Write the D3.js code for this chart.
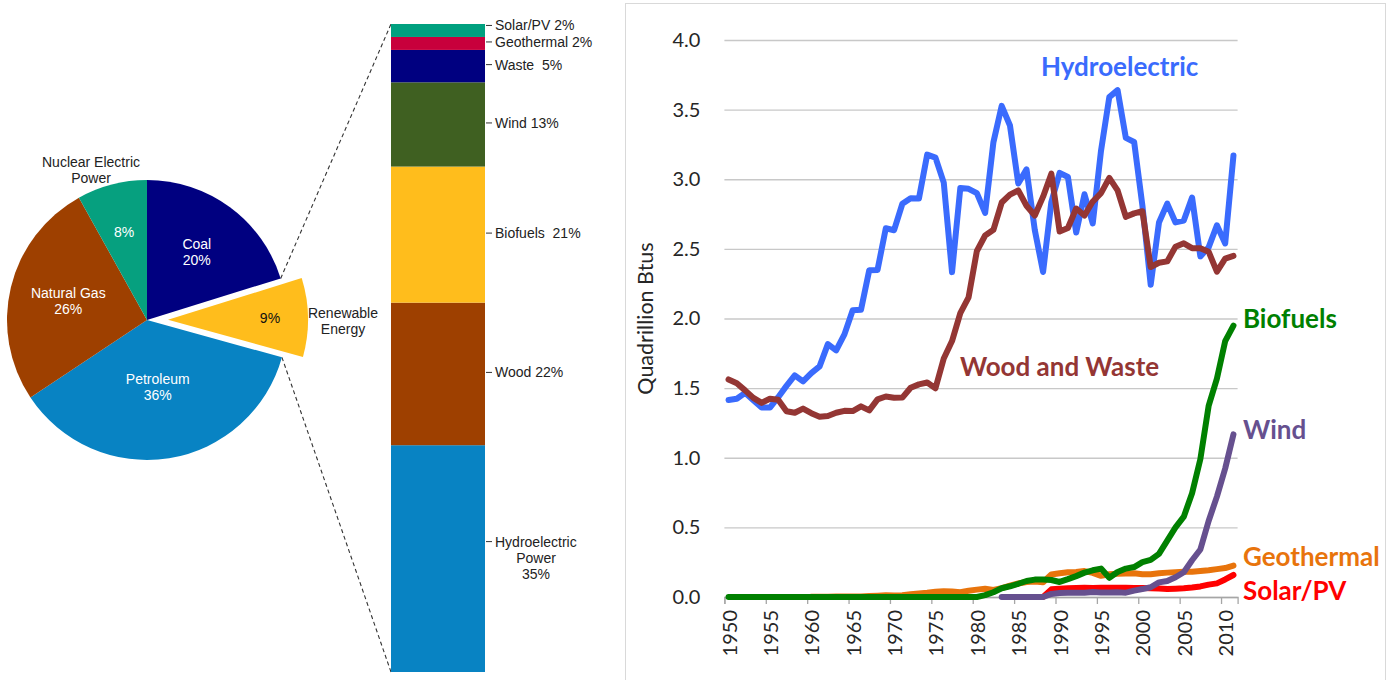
<!DOCTYPE html>
<html>
<head>
<meta charset="utf-8">
<script src="https://cdn.jsdelivr.net/npm/d3@7/dist/d3.min.js"></script>
<style>
  html, body { margin: 0; padding: 0; background: #fff; }
  svg { display: block; }
  .sans { font-family: "Liberation Sans", Arial, sans-serif; }
  .cal { font-family: Lato, "Open Sans", sans-serif; }
</style>
</head>
<body>
<svg id="chart" width="1397" height="680"></svg>
<script>
// ---- Primary energy consumption shares ----
const pieNames = ["Coal", "Renewable Energy", "Petroleum", "Natural Gas", "Nuclear Electric Power"];
const pieShares = [20, 9, 36, 26, 8];
const pieColors = ["#000080", "#ffbd1c", "#0883c3", "#9e4000", "#06a07f"];

// ---- Renewable energy breakdown (bottom to top of the stacked column) ----
const renewNames = ["Hydroelectric Power", "Wood", "Biofuels", "Wind", "Waste", "Geothermal", "Solar/PV"];
const renewShares = [35, 22, 21, 13, 5, 2, 2];
const renewColors = ["#0883c3", "#9e4000", "#ffbd1c", "#3f6021", "#000080", "#c8003c", "#00a07f"];

// ---- Renewable energy consumption by source, quadrillion Btu ----
const years = d3.range(1950, 2012);
const yTicks = [0, 0.5, 1, 1.5, 2, 2.5, 3, 3.5, 4];
const xTickYears = [1950, 1955, 1960, 1965, 1970, 1975, 1980, 1985, 1990, 1995, 2000, 2005, 2010];

const hydro = [
  1.415, 1.424, 1.466, 1.413, 1.360, 1.360, 1.435, 1.516, 1.592, 1.548,
  1.608, 1.656, 1.816, 1.771, 1.886, 2.059, 2.062, 2.347, 2.349, 2.648,
  2.634, 2.824, 2.864, 2.861, 3.177, 3.155, 2.976, 2.333, 2.937, 2.931,
  2.900, 2.758, 3.266, 3.527, 3.386, 2.970, 3.071, 2.635, 2.334, 2.837,
  3.046, 3.016, 2.617, 2.892, 2.683, 3.205, 3.590, 3.640, 3.297, 3.268,
  2.811, 2.242, 2.689, 2.825, 2.690, 2.703, 2.869, 2.446, 2.511, 2.669,
  2.539, 3.171
];
const woodWaste = [
  1.562, 1.535, 1.484, 1.430, 1.394, 1.424, 1.416, 1.334, 1.323, 1.353,
  1.320, 1.295, 1.300, 1.323, 1.337, 1.335, 1.369, 1.340, 1.419, 1.440,
  1.431, 1.432, 1.503, 1.527, 1.540, 1.499, 1.713, 1.838, 2.038, 2.152,
  2.485, 2.596, 2.637, 2.833, 2.890, 2.920, 2.810, 2.740, 2.875, 3.040,
  2.625, 2.650, 2.790, 2.740, 2.840, 2.900, 3.010, 2.920, 2.730, 2.755,
  2.770, 2.370, 2.400, 2.410, 2.515, 2.540, 2.505, 2.505, 2.480, 2.336,
  2.430, 2.450
];
const geothermal = [
  null, null, null, null, null, null, null, null, null, null,
  0.001, 0.002, 0.002, 0.003, 0.004, 0.004, 0.004, 0.007, 0.009, 0.012,
  0.011, 0.012, 0.020, 0.025, 0.030, 0.037, 0.042, 0.040, 0.035, 0.045,
  0.053, 0.059, 0.051, 0.064, 0.081, 0.097, 0.108, 0.112, 0.106, 0.162,
  0.171, 0.178, 0.179, 0.186, 0.173, 0.152, 0.163, 0.167, 0.168, 0.171,
  0.164, 0.164, 0.171, 0.175, 0.178, 0.181, 0.181, 0.186, 0.192, 0.200,
  0.208, 0.226
];
const solar = [
  null, null, null, null, null, null, null, null, null, null,
  null, null, null, null, null, null, null, null, null, null,
  null, null, null, null, null, null, null, null, null, null,
  null, null, null, null, 0, 0, 0, 0, 0, 0.055,
  0.059, 0.062, 0.064, 0.066, 0.065, 0.066, 0.067, 0.067, 0.066, 0.065,
  0.064, 0.062, 0.061, 0.058, 0.060, 0.063, 0.068, 0.076, 0.089, 0.098,
  0.126, 0.158
];
const wind = [
  null, null, null, null, null, null, null, null, null, null,
  null, null, null, null, null, null, null, null, null, null,
  null, null, null, null, null, null, null, null, null, null,
  null, null, null, 0, 0, 0, 0, 0, 0, 0.022,
  0.029, 0.031, 0.030, 0.031, 0.036, 0.033, 0.033, 0.034, 0.031, 0.046,
  0.057, 0.070, 0.105, 0.115, 0.142, 0.178, 0.264, 0.341, 0.546, 0.721,
  0.923, 1.168
];
const biofuels = [
  0, 0, 0, 0, 0, 0, 0, 0, 0, 0,
  0, 0, 0, 0, 0, 0, 0, 0, 0, 0,
  0, 0, 0, 0, 0, 0, 0, 0, 0, 0,
  0, 0.013, 0.034, 0.063, 0.077, 0.095, 0.115, 0.125, 0.126, 0.122,
  0.108, 0.128, 0.150, 0.175, 0.192, 0.204, 0.138, 0.180, 0.204, 0.215,
  0.250, 0.266, 0.310, 0.405, 0.500, 0.577, 0.745, 0.990, 1.372, 1.568,
  1.837, 1.949
];

const svg = d3.select("#chart");
svg.append("rect").attr("width", 1397).attr("height", 680).attr("fill", "#fff");

// =================== Pie of primary energy ===================
const cx = 147, cy = 320, R = 140, explode = 21;
const pie = d3.pie().sort(null).value(d => d)(pieShares);
const arc = d3.arc().innerRadius(0).outerRadius(R);
const renewIdx = pieNames.indexOf("Renewable Energy");
const renewArc = pie[renewIdx];

// Stacked column scale
const barX0 = 391, barX1 = 485;
const barY = d3.scaleLinear().domain([0, 100]).range([672, 24]);

// Dashed connectors from the pie wedge edges to the column corners
const polar = (a, r) => [cx + r * Math.sin(a), cy - r * Math.cos(a)];
const topStart = polar(renewArc.startAngle, R);
const botStart = polar(renewArc.endAngle, R);
const connectors = [
  [topStart, [barX0, barY(100)]],
  [botStart, [barX0, barY(0)]]
];
svg.append("g").selectAll("line").data(connectors).join("line")
  .attr("x1", d => d[0][0]).attr("y1", d => d[0][1])
  .attr("x2", d => d[1][0]).attr("y2", d => d[1][1])
  .attr("stroke", "#333").attr("stroke-width", 1.1)
  .attr("stroke-dasharray", "4,3");

const pieG = svg.append("g").attr("transform", `translate(${cx},${cy})`);
const wedge = pieG.selectAll("g.wedge").data(pie).join("g")
  .attr("class", "wedge")
  .attr("transform", (d, i) => {
    if (i !== renewIdx) return null;
    const m = (d.startAngle + d.endAngle) / 2;
    return `translate(${explode * Math.sin(m)},${-explode * Math.cos(m)})`;
  });
wedge.append("path").attr("d", arc).attr("fill", (d, i) => pieColors[i]);

// Labels inside the wedges
const inLabelRadius = { "Coal": 84, "Renewable Energy": 102, "Petroleum": 68, "Natural Gas": 81, "Nuclear Electric Power": 91 };
const inLabelLines = (name, v) => {
  if (name === "Renewable Energy" || name === "Nuclear Electric Power") return [`${v}%`];
  return [name, `${v}%`];
};
wedge.each(function (d, i) {
  const name = pieNames[i];
  const m = (d.startAngle + d.endAngle) / 2;
  const r = inLabelRadius[name];
  const lx = r * Math.sin(m), ly = -r * Math.cos(m);
  const lines = inLabelLines(name, pieShares[i]);
  const t = d3.select(this).append("text")
    .attr("class", "sans")
    .attr("text-anchor", "middle")
    .attr("font-size", 14)
    .attr("fill", name === "Renewable Energy" ? "#111" : "#fff");
  lines.forEach((ln, k) => {
    t.append("tspan").attr("x", lx)
      .attr("y", ly + (k - (lines.length - 1) / 2) * 16)
      .attr("dy", "0.35em").text(ln);
  });
});

// Labels outside the pie
const outLabels = [
  { lines: ["Nuclear Electric", "Power"], x: cx - 56, y: cy - 150 },
  { lines: ["Renewable", "Energy"], x: cx + 196, y: cy + 1 }
];
outLabels.forEach(o => {
  const t = svg.append("text").attr("class", "sans")
    .attr("text-anchor", "middle").attr("font-size", 14).attr("fill", "#222");
  o.lines.forEach((ln, k) => {
    t.append("tspan").attr("x", o.x)
      .attr("y", o.y + (k - (o.lines.length - 1) / 2) * 16)
      .attr("dy", "0.35em").text(ln);
  });
});

// =================== Stacked renewable column ===================
let acc = 0;
const segs = renewShares.map((v, i) => {
  const s = { name: renewNames[i], v, y0: acc, y1: acc + v, color: renewColors[i] };
  acc += v;
  return s;
});
svg.append("g").selectAll("rect").data(segs).join("rect")
  .attr("x", barX0).attr("width", barX1 - barX0)
  .attr("y", d => barY(d.y1)).attr("height", d => barY(d.y0) - barY(d.y1))
  .attr("fill", d => d.color);

// Segment labels: text lines per segment
const segLabelLines = {
  "Hydroelectric Power": v => ["Hydroelectric", "Power", `${v}%`],
  "Wood": v => [`Wood ${v}%`],
  "Biofuels": v => [`Biofuels  ${v}%`],
  "Wind": v => [`Wind ${v}%`],
  "Waste": v => [`Waste  ${v}%`],
  "Geothermal": v => [`Geothermal ${v}%`],
  "Solar/PV": v => [`Solar/PV ${v}%`]
};
// Anchor each label at its segment middle, nudging upward to keep labels apart
let prevY = Infinity;
segs.forEach(s => {
  const lines = segLabelLines[s.name](s.v);
  const mid = (barY(s.y0) + barY(s.y1)) / 2;
  let ly = lines.length > 1 ? mid - 17 : mid - 1.5;
  if (ly > prevY - 16.5) ly = prevY - 16.5;
  prevY = ly;
  svg.append("line").attr("x1", barX1 + 1).attr("x2", barX1 + 7)
    .attr("y1", ly).attr("y2", ly).attr("stroke", "#333").attr("stroke-width", 1);
  const t = svg.append("text").attr("class", "sans").attr("font-size", 14)
    .attr("fill", "#222").style("white-space", "pre");
  if (lines.length === 1) {
    t.attr("x", barX1 + 10).attr("y", ly).attr("dy", "0.35em").text(lines[0]);
  } else {
    const centerX = barX1 + 10 + 41;
    lines.forEach((ln, k) => {
      t.append("tspan").attr("x", k === 0 ? barX1 + 10 : centerX)
        .attr("text-anchor", k === 0 ? "start" : "middle")
        .attr("y", ly + k * 16).attr("dy", "0.35em").text(ln);
    });
  }
});

// =================== Line chart ===================
svg.append("rect").attr("x", 625.5).attr("y", 3.5).attr("width", 760).attr("height", 700)
  .attr("fill", "none").attr("stroke", "#d9d9d9").attr("stroke-width", 1);

const x = d3.scaleLinear().domain([1950, 2012]).range([724.4, 1237.6]);
const y = d3.scaleLinear().domain([0, 4]).range([597, 40]);

// gridlines
svg.append("g").attr("transform", `translate(${x(1950)},0)`)
  .call(d3.axisLeft(y).tickValues(yTicks).tickSize(-(x(2012) - x(1950))).tickFormat(""))
  .call(g => g.select(".domain").remove())
  .call(g => g.selectAll("line").attr("stroke", "#c8c8c8").attr("stroke-width", 1.3));

// y tick labels
svg.append("g").attr("transform", `translate(${x(1950)},0)`)
  .call(d3.axisLeft(y).tickValues(yTicks).tickSize(0).tickPadding(24).tickFormat(d3.format(".1f")))
  .call(g => g.select(".domain").remove())
  .call(g => g.selectAll("text").attr("class", "cal").attr("font-size", 20).attr("fill", "#262626"));

// x axis ticks at category boundaries
svg.append("g").attr("transform", `translate(0,${y(0)})`)
  .call(d3.axisBottom(x).tickValues(xTickYears).tickSize(7).tickFormat(""))
  .call(g => g.select(".domain").attr("stroke", "#a6a6a6").attr("stroke-width", 1.3))
  .call(g => g.selectAll(".tick line").attr("stroke", "#a6a6a6").attr("stroke-width", 1.3));

// x tick labels centred on categories, rotated
svg.append("g").selectAll("text").data(xTickYears).join("text")
  .attr("class", "cal").attr("font-size", 20).attr("fill", "#262626")
  .attr("text-anchor", "end")
  .attr("transform", d => `translate(${x(d + 0.5) + 1},${y(0) + 13}) rotate(-90)`)
  .attr("dy", "0.35em")
  .text(d => d);

// y axis title
svg.append("text").attr("class", "cal").attr("font-size", 21.5).attr("fill", "#262626")
  .attr("text-anchor", "middle")
  .attr("transform", `translate(645,${y(2)}) rotate(-90)`)
  .attr("dy", "0.35em")
  .text("Quadrillion Btus");

const seriesList = [
  { name: "Hydroelectric", values: hydro, color: "#3a6bfd", lx: 1988.25, ly: 3.741 },
  { name: "Wood and Waste", values: woodWaste, color: "#943634", lx: 1978.45, ly: 1.587 },
  { name: "Geothermal", values: geothermal, color: "#e8740c", lx: 2012.65, ly: 0.223 },
  { name: "Solar/PV", values: solar, color: "#ff0000", lx: 2012.65, ly: -0.025 },
  { name: "Wind", values: wind, color: "#66508f", lx: 2012.65, ly: 1.135 },
  { name: "Biofuels", values: biofuels, color: "#008000", lx: 2012.65, ly: 1.932 }
];

const line = d3.line()
  .defined(d => d.v !== null)
  .x(d => x(d.year + 0.5))
  .y(d => y(d.v));

const linesG = svg.append("g");
seriesList.forEach(s => {
  const pts = years.map((yr, i) => ({ year: yr, v: s.values[i] }));
  linesG.append("path").datum(pts)
    .attr("d", line)
    .attr("fill", "none")
    .attr("stroke", s.color)
    .attr("stroke-width", 6)
    .attr("stroke-linejoin", "round")
    .attr("stroke-linecap", "round");
});

svg.append("g").selectAll("text").data(seriesList).join("text")
  .attr("class", "cal")
  .attr("font-size", 26).attr("font-weight", 700)
  .attr("fill", d => d.color)
  .attr("x", d => x(d.lx)).attr("y", d => y(d.ly))
  .text(d => d.name);
</script>
</body>
</html>
